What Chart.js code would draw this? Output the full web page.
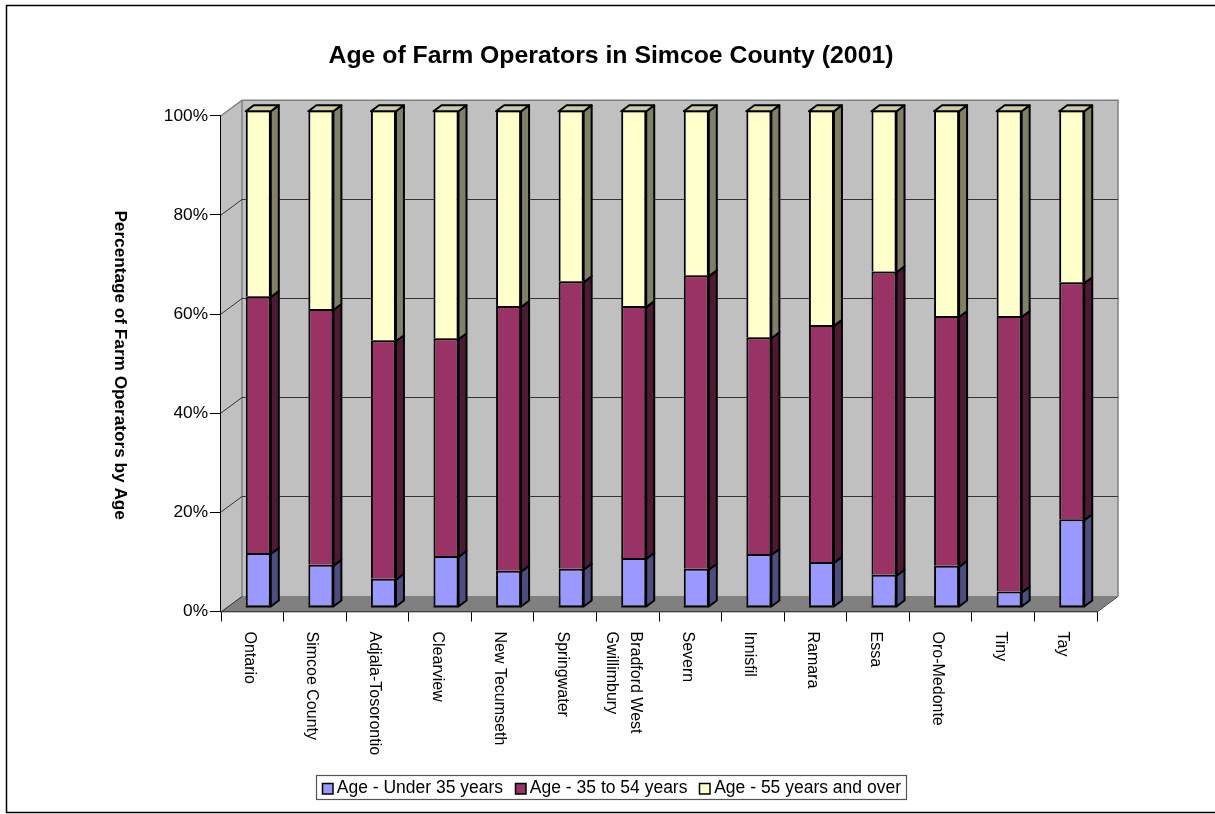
<!DOCTYPE html>
<html><head><meta charset="utf-8">
<style>html,body{margin:0;padding:0;background:#fff}#w{position:relative;width:1215px;height:814px}canvas{display:block}</style>
<script src="https://cdn.jsdelivr.net/npm/chart.js@4"></script></head>
<body><div id="w"><canvas id="c" width="1215" height="814"></canvas></div>
<script>
const categories = ["Ontario","Simcoe County","Adjala-Tosorontio","Clearview","New Tecumseth","Springwater",["Bradford West","Gwillimbury"],"Severn","Innisfil","Ramara","Essa","Oro-Medonte","Tiny","Tay"];
const under35 = [10.7,8.3,5.5,10.1,7.1,7.5,9.7,7.5,10.5,8.9,6.3,8.1,2.9,17.5];
const mid35to54 = [51.8,51.6,48.1,43.9,53.4,58.0,50.8,59.2,43.7,47.8,61.2,50.4,55.6,47.8];
const over55 = [37.5,40.1,46.4,46.0,39.5,34.5,39.5,33.3,45.8,43.3,32.5,41.5,41.5,34.7];
const seriesNames = ["Age - Under 35 years","Age - 35 to 54 years","Age - 55 years and over"];
const yTicks = [0,20,40,60,80,100];
const chartTitle = "Age of Farm Operators in Simcoe County (2001)";
const yTitle = "Percentage of Farm Operators by Age";

const FONT = '"Liberation Sans", Arial, sans-serif';
const DEPTH = {x:21, y:-15.5};
const BAR_SHIFT = {x:6, y:-5.5};
const BAR_DEPTH = {x:8, y:-6};
const sideCol = ['#4D4D80','#4D1A33','#808066'];
const topCol = ['#7A7ACC','#7A2952','#CCCCA3'];
const legendCol = ['#9999FF','#993366','#FFFFCC'];

function poly(ctx, pts, fill, stroke, lw){
  ctx.beginPath();
  pts.forEach((p,i)=> i?ctx.lineTo(p[0],p[1]):ctx.moveTo(p[0],p[1]));
  ctx.closePath();
  if(fill){ctx.fillStyle=fill;ctx.fill();}
  if(stroke){ctx.strokeStyle=stroke;ctx.lineWidth=lw||1;ctx.stroke();}
}
const frame3d = {
  id:'frame3d',
  beforeDraw(chart){
    const ctx=chart.ctx;
    ctx.save();
    ctx.fillStyle='#fff';ctx.fillRect(0,0,chart.width,chart.height);
    ctx.strokeStyle='#000';ctx.lineWidth=1.5;
    ctx.beginPath();ctx.moveTo(1215,5.5);ctx.lineTo(6.5,5.5);ctx.lineTo(6.5,812.5);ctx.lineTo(1215,812.5);ctx.stroke();
    ctx.restore();
  },
  beforeDatasetsDraw(chart){
    const ctx=chart.ctx, {x,y}=chart.scales;
    const L=x.left,R=x.right,B=y.getPixelForValue(0),T=y.getPixelForValue(100);
    const dx=DEPTH.x,dy=DEPTH.y;
    ctx.save();
    poly(ctx,[[L+dx,T+dy],[R+dx,T+dy],[R+dx,B+dy],[L+dx,B+dy]],'#C0C0C0');
    poly(ctx,[[L,T],[L+dx,T+dy],[L+dx,B+dy],[L,B]],'#C0C0C0');
    poly(ctx,[[L,B],[L+dx,B+dy],[R+dx,B+dy],[R,B]],'#808080');
    ctx.strokeStyle='#808080';ctx.lineWidth=1.5;
    ctx.beginPath();ctx.moveTo(L,T);ctx.lineTo(L+dx,T+dy);ctx.lineTo(R+dx,T+dy);ctx.lineTo(R+dx,B+dy);ctx.moveTo(L+dx,T+dy);ctx.lineTo(L+dx,B+dy);ctx.stroke();
    ctx.strokeStyle='#333';ctx.lineWidth=1;
    yTicks.forEach(v=>{
      if(v===100) return;
      const p=Math.round(y.getPixelForValue(v));
      ctx.beginPath();
      if(v>0){ctx.moveTo(L,p);ctx.lineTo(L+dx,p+dy);ctx.lineTo(R+dx,p+dy);}
      else{ctx.moveTo(L,p);ctx.lineTo(L+dx,p+dy);ctx.moveTo(R,p);ctx.lineTo(R+dx,p+dy);}
      ctx.stroke();
    });
    ctx.restore();
    ctx.save();
    ctx.translate(BAR_SHIFT.x,BAR_SHIFT.y);
  },
  afterDatasetsDraw(chart){
    const ctx=chart.ctx, n=chart.data.datasets.length;
    const bx=BAR_DEPTH.x,by=BAR_DEPTH.y;
    ctx.lineJoin='round';
    chart.data.datasets.forEach((ds,di)=>{
      chart.getDatasetMeta(di).data.forEach(b=>{
        const r=b.x+b.width/2,l=b.x-b.width/2,t=b.y+1,bs=b.base+1;
        poly(ctx,[[r,t],[r+bx,t+by],[r+bx,bs+by],[r,bs]],sideCol[di],'#000',2);
        if(di===n-1) poly(ctx,[[l,t],[l+bx,t+by],[r+bx,t+by],[r,t]],topCol[di],'#000',2);
        if(di===0){ctx.fillStyle='#000';ctx.fillRect(l,b.base,b.width,2);}
      });
    });
    ctx.restore();
    const y=chart.scales.y;
    ctx.save();
    ctx.translate(120,(y.top+y.bottom)/2+1.5);
    ctx.rotate(Math.PI/2);
    ctx.fillStyle='#000';ctx.font='bold 17.2px '+FONT;ctx.textAlign='center';ctx.textBaseline='middle';
    ctx.fillText(yTitle,0,0);
    ctx.restore();
  },
  afterDraw(chart){
    const h=chart.legend.legendHitBoxes;
    if(!h||!h.length) return;
    const ctx=chart.ctx;
    ctx.save();
    h.forEach((b,i)=>{
      ctx.strokeStyle='#000';ctx.lineWidth=1.5;
      const top=Math.round(b.top+b.height/2-5.5);
      const left=Math.round(b.left+1);
      ctx.fillStyle='#fff';ctx.fillRect(b.left-1,top-1,9,13);
      ctx.fillStyle=legendCol[i];
      ctx.fillRect(left,top,11,11);ctx.strokeRect(left+.5,top+.5,10.5,10.5);
    });
    ctx.strokeStyle='#555';ctx.lineWidth=1.2;
    ctx.strokeRect(316.5,775.5,590,24);
    ctx.restore();
  }
};
const mk=(label,data,bg)=>({label,data,backgroundColor:bg,borderColor:'#000',borderWidth:{top:2,left:2,right:2,bottom:0},barPercentage:.4,categoryPercentage:1,borderSkipped:false});
Chart.defaults.font.family=FONT;
new Chart(document.getElementById('c'),{
  type:'bar',
  data:{labels:categories,datasets:[mk(seriesNames[0],under35,legendCol[0]),mk(seriesNames[1],mid35to54,legendCol[1]),mk(seriesNames[2],over55,legendCol[2])]},
  plugins:[frame3d],
  options:{
    responsive:false,animation:false,
    layout:{padding:{left:125,right:118,top:0,bottom:7}},
    plugins:{
      title:{display:true,text:chartTitle,color:'#000',font:{size:24.8,weight:'bold',family:FONT},padding:{top:41,bottom:45}},
      legend:{position:'bottom',labels:{color:'#000',font:{size:17.5,family:FONT},boxWidth:7,boxHeight:7,padding:11,
        generateLabels(c){return c.data.datasets.map((d,i)=>({text:d.label,fillStyle:d.backgroundColor,strokeStyle:'#000',lineWidth:1,datasetIndex:i,fontColor:'#000'}));}}},
      tooltip:{enabled:false}
    },
    scales:{
      x:{stacked:true,
        grid:{drawOnChartArea:false,color:'#000',tickLength:10,offset:true},
        border:{color:'#000',width:1.2},
        ticks:{color:'#000',font:{size:16,family:FONT,lineHeight:1.5},minRotation:-90,maxRotation:-90,autoSkip:false,padding:10},
        afterFit(s){
          s.height=157;
          s._getXAxisLabelAlignment=()=>'left';
          if(!s._wrapped){
            s._wrapped=true;
            const orig=s._computeLabelItems;
            s._computeLabelItems=function(ca){
              const items=orig.call(this,ca);
              items.forEach(it=>{ it.options.translation[0]+=Array.isArray(it.label)?8:-3; });
              return items;
            };
          }
        }
      },
      y:{stacked:true,min:0,max:100,
        grid:{drawOnChartArea:false,color:'#000',tickLength:11},
        border:{color:'#000',width:1.2},
        ticks:{color:'#000',font:{size:17.3,family:FONT},stepSize:20,padding:2,callback:v=>v+'%'},
        afterFit(s){s.width=96;}
      }
    }
  }
});
</script></body></html>
